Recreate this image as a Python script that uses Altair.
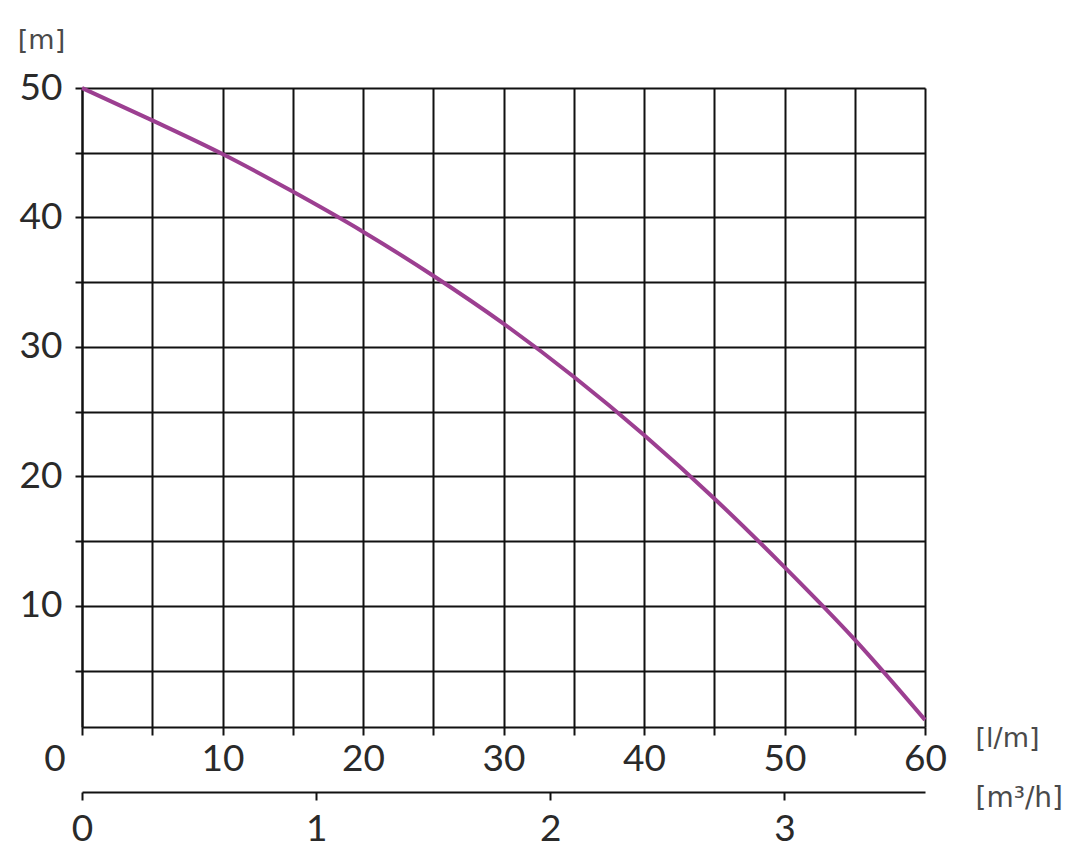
import json
import altair as alt
import pandas as pd

# ---- data ----
flow_lpm = [0, 5, 10, 15, 20, 25, 30, 35, 40, 45, 50, 55, 60]
head_m = [50, 47.5, 44.9, 42.0, 38.9, 35.5, 31.8, 27.7, 23.2, 18.3, 13.0, 7.4, 1.2]
lpm_ticks = [0, 5, 10, 15, 20, 25, 30, 35, 40, 45, 50, 55, 60]
lpm_labels = [10, 20, 30, 40, 50, 60]
head_ticks = [5, 10, 15, 20, 25, 30, 35, 40, 45, 50]
head_labels = [10, 20, 30, 40, 50]
m3h_ticks = [0, 1, 2, 3]
origin_label = ["0"]

df = pd.DataFrame({"lpm": flow_lpm, "head": head_m})
origin_df = pd.DataFrame({"lpm": [0], "t": origin_label})

W, H = 843, 639
FONT = "Lato"
UFONT = "DejaVu Sans"
INK = "#111111"
TXT = "#2a2a2a"
UTXT = "#4a4a4a"

x_scale = alt.Scale(domain=[0, 60], nice=False, zero=False)
y_scale = alt.Scale(domain=[0.65, 50], nice=False, zero=False)

x_axis = alt.Axis(
    values=lpm_ticks,
    labelExpr="indexof(%s, datum.value) >= 0 ? datum.label : ''" % json.dumps(lpm_labels),
    grid=True, gridColor=INK, gridWidth=2, gridOpacity=1,
    domainColor=INK, domainWidth=2,
    tickColor=INK, tickWidth=2, tickSize=8,
    labelFont=FONT, labelFontSize=37, labelColor=TXT, labelPadding=6,
    labelFlush=False, labelOverlap=False,
    title="[l/m]", titleFont=UFONT, titleFontSize=27, titleFontWeight="normal",
    titleColor=UTXT, titleAngle=0, titleAlign="left", titleBaseline="middle",
    titleX=893, titleY=11,
)

y_axis = alt.Axis(
    values=head_ticks,
    labelExpr="indexof(%s, datum.value) >= 0 ? datum.label : ''" % json.dumps(head_labels),
    grid=True, gridColor=INK, gridWidth=2, gridOpacity=1,
    domainColor=INK, domainWidth=2,
    tickColor=INK, tickWidth=2, tickSize=7,
    labelFont=FONT, labelFontSize=37, labelColor=TXT, labelPadding=13,
    labelFlush=False, labelOverlap=False, labelBaseline="middle",
    title="[m]", titleFont=UFONT, titleFontSize=27, titleFontWeight="normal",
    titleColor=UTXT, titleAngle=0, titleAlign="center", titleBaseline="middle",
    titleX=-41, titleY=-48,
)

m3h_axis = alt.Axis(
    orient="bottom", offset=65, values=m3h_ticks, grid=False,
    domainColor=INK, domainWidth=2,
    tickColor=INK, tickWidth=2, tickSize=8,
    labelFont=FONT, labelFontSize=37, labelColor=TXT, labelPadding=11,
    labelFlush=False, labelOverlap=False,
    title="[m³/h]", titleFont=UFONT, titleFontSize=28, titleFontWeight="normal",
    titleColor=UTXT, titleAngle=0, titleAlign="left", titleBaseline="middle",
    titleX=893, titleY=6,
)

curve = alt.Chart(df).mark_line(
    color="#9c3f91", strokeWidth=4, interpolate="monotone"
).encode(
    x=alt.X("lpm:Q", scale=x_scale, axis=x_axis),
    y=alt.Y("head:Q", scale=y_scale, axis=y_axis),
)

second_axis = alt.Chart(df).transform_calculate(
    m3h="datum.lpm * 0.06"
).mark_point(opacity=0).encode(
    x=alt.X("m3h:Q", scale=alt.Scale(domain=[0, 3.6], nice=False, zero=False), axis=m3h_axis),
    y=alt.value(0),
)

origin = alt.Chart(origin_df).mark_text(
    font=FONT, fontSize=37, color=TXT, dx=-27, baseline="middle", align="center"
).encode(
    x=alt.X("lpm:Q", scale=x_scale, axis=None),
    y=alt.value(H + 33),
    text="t:N",
)

chart = alt.layer(curve, second_axis, origin).resolve_scale(
    x="independent"
).properties(
    width=W, height=H,
    autosize=alt.AutoSizeParams(type="none"),
    padding={"left": 74, "top": 80, "right": 140, "bottom": 120},
    background="white",
).configure_view(stroke=None)

chart.save("out.html", embed_options={"renderer": "svg", "actions": False})
